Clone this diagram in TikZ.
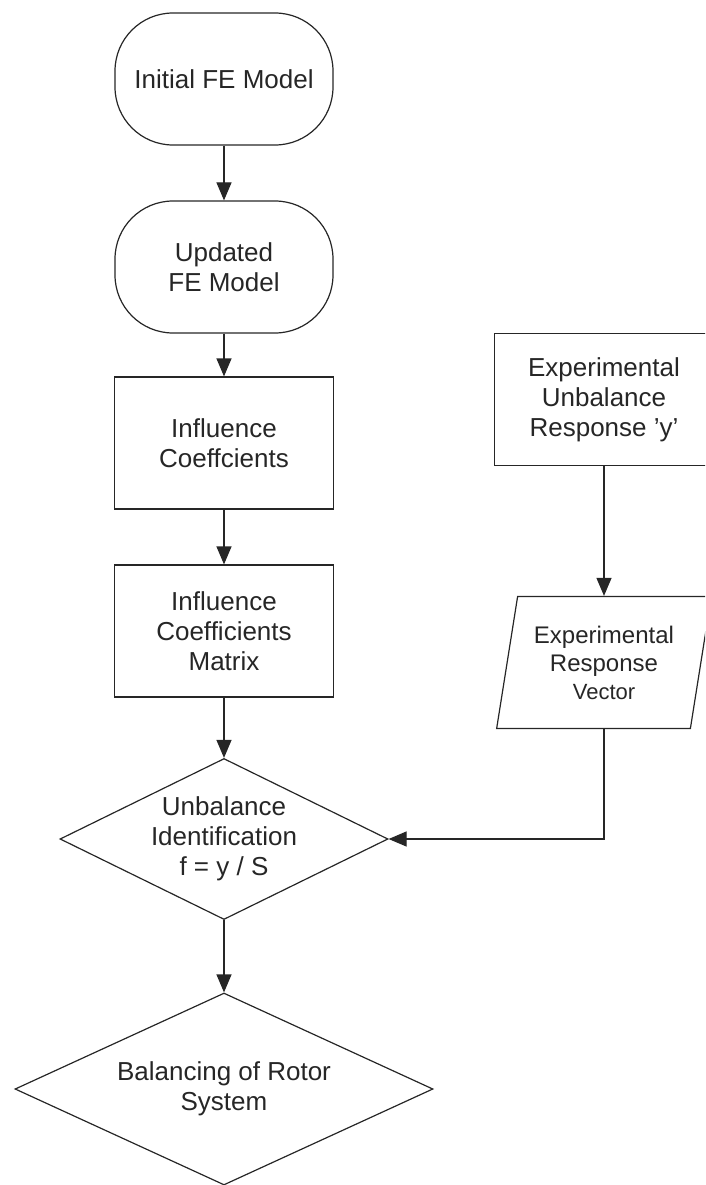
\documentclass[tikz,border=0pt]{standalone}
\usepackage{fontspec}
\setmainfont{Liberation Sans}
\usetikzlibrary{shapes.geometric, arrows.meta, positioning}
\tikzstyle{startstop} = [rectangle, rounded corners=58pt, minimum width=218pt, minimum height=132pt, align=center, draw=black!85, line width=1.2pt]
\tikzstyle{process} = [rectangle, minimum width=219pt, minimum height=132pt, align=center, draw=black!85, line width=1.2pt]
\tikzstyle{io} = [trapezium, trapezium left angle=77, trapezium right angle=103, trapezium stretches=true, inner sep=0pt, minimum width=215pt, minimum height=132pt, align=center, draw=black!85, line width=1.2pt, font=\fontsize{24}{28}\selectfont]
\tikzstyle{decision} = [diamond, minimum width=328pt, minimum height=161pt, aspect=2, inner sep=0pt, align=center, draw=black!85, line width=1.2pt]
\tikzstyle{arrow} = [line width=1.2pt, draw=black!85, -{Triangle[length=18pt,width=15pt]}]

\begin{document}
\begin{tikzpicture}[node distance=188pt, font=\fontsize{26}{30}\selectfont, text=black!85]
\useasboundingbox (-224pt,79pt) rectangle (481pt,-1106pt);
\clip (-224pt,79pt) rectangle (481pt,-1106pt);
\node (init) [startstop] {Initial FE Model};
\node (updated) [startstop, below of=init] {Updated\\FE Model};
\draw [arrow] (init) -- (updated);
\node (infl) [process, below of=updated, yshift=12pt] {Influence\\Coeffcients};
\draw [arrow] (updated) -- (infl);
\node (matrix) [process, below of=infl] {Influence\\Coefficients\\Matrix};
\draw [arrow] (infl) -- (matrix);
\node (ident) [decision, below of=matrix, yshift=-20pt] {Unbalance\\Identification\\f = y / S};
\draw [arrow] (matrix) -- (ident);
\node (balance) [decision, below of=ident, yshift=-62pt, minimum width=418pt, minimum height=192pt] {Balancing of Rotor\\System};
\draw [arrow] (ident) -- (balance);

\node (expbox) [process, right of=infl, xshift=192pt, yshift=43.5pt] {Experimental\\Unbalance\\Response 'y'};
\node (expvec) [io, below of=expbox, yshift=-75pt] {Experimental\\Response\\{\fontsize{22}{25}\selectfont Vector}};
\draw [arrow] (expbox) -- (expvec);
\draw [arrow] (expvec) |- (ident);

\end{tikzpicture}
\end{document}
